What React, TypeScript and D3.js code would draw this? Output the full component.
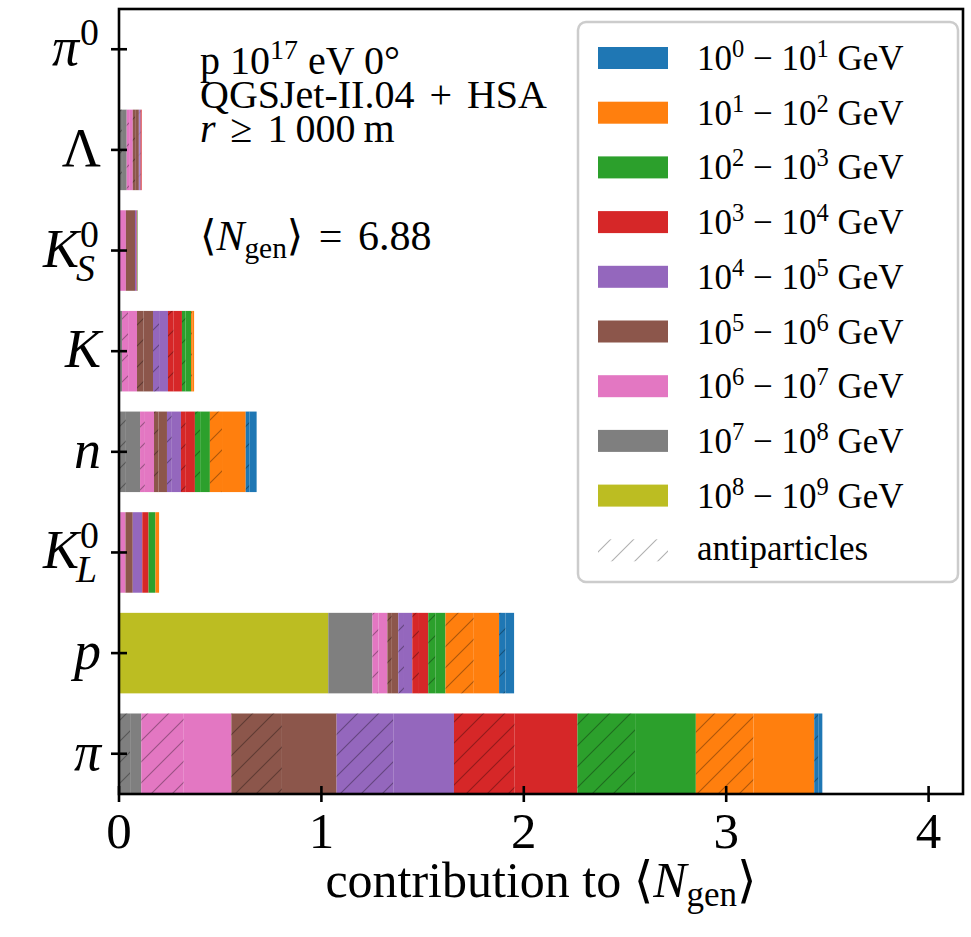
import React from "react";
import * as d3 from "d3";

// Energy bins: index i covers 10^i – 10^(i+1) GeV
const binExponents = [0, 1, 2, 3, 4, 5, 6, 7, 8];
const binColors = [
  "#1f77b4", "#ff7f0e", "#2ca02c", "#d62728", "#9467bd",
  "#8c564b", "#e377c2", "#7f7f7f", "#bcbd22",
];

// Contribution to <N_gen> per energy bin (particles / antiparticles)
const piPart = [0.02, 0.3, 0.3, 0.31, 0.3, 0.27, 0.235, 0.055, 0];
const piAnti = [0.02, 0.285, 0.285, 0.3, 0.28, 0.25, 0.21, 0.055, 0];
const pPart = [0.042, 0.125, 0.05, 0.046, 0.041, 0.032, 0.044, 0.218, 1.034];
const pAnti = [0.032, 0.14, 0.035, 0.033, 0.028, 0.022, 0.03, 0, 0];
const kl0Part = [0, 0.018, 0.034, 0.031, 0.047, 0.036, 0.026, 0.006, 0];
const kl0Anti = [0, 0, 0, 0, 0, 0, 0, 0, 0];
const nPart = [0.036, 0.117, 0.048, 0.045, 0.045, 0.042, 0.045, 0.07, 0];
const nAnti = [0.018, 0.06, 0.026, 0.024, 0.024, 0.022, 0.024, 0.034, 0];
const kPart = [0, 0.009, 0.027, 0.041, 0.044, 0.047, 0.044, 0.009, 0];
const kAnti = [0, 0.006, 0.018, 0.028, 0.03, 0.032, 0.03, 0.006, 0];
const ks0Part = [0, 0, 0.002, 0.003, 0.008, 0.045, 0.03, 0.004, 0];
const ks0Anti = [0, 0, 0, 0, 0, 0, 0, 0, 0];
const lambdaPart = [0, 0, 0, 0.003, 0.006, 0.018, 0.018, 0.023, 0];
const lambdaAnti = [0, 0, 0, 0.002, 0.003, 0.012, 0.012, 0.015, 0];
const pi0Part = [0, 0, 0, 0, 0, 0, 0, 0, 0];
const pi0Anti = [0, 0, 0, 0, 0, 0, 0, 0, 0];

// Rows from bottom to top
const rowPart = [piPart, pPart, kl0Part, nPart, kPart, ks0Part, lambdaPart, pi0Part];
const rowAnti = [piAnti, pAnti, kl0Anti, nAnti, kAnti, ks0Anti, lambdaAnti, pi0Anti];
const rowSymbols = ["π", "p", "K", "n", "K", "K", "Λ", "π"];
const rowSubs = ["", "", "L", "", "", "S", "", ""];
const rowSups = ["", "", "0", "", "", "0", "", "0"];
const rowItalic = [true, true, true, true, true, true, false, true];

const xTicks = [0, 1, 2, 3, 4];

const FONT = "'Liberation Serif', 'DejaVu Serif', serif";
const txt = { fontFamily: FONT };

type Segment = { x0: number; x1: number; color: string; hatched: boolean };

function buildSegments(part: number[], anti: number[]): Segment[] {
  const segs: Segment[] = [];
  let acc = 0;
  for (let b = binExponents.length - 1; b >= 0; b--) {
    const pieces: [number, boolean][] = [
      [anti[b], true],
      [part[b], false],
    ];
    for (const [v, hatched] of pieces) {
      if (v > 0) {
        segs.push({ x0: acc, x1: acc + v, color: binColors[b], hatched });
        acc += v;
      }
    }
  }
  return segs;
}

function PowerRange({ lo }: { lo: number }) {
  return (
    <>
      <tspan>10</tspan>
      <tspan dy={-13} fontSize="0.7em">{lo}</tspan>
      <tspan dy={13}>{" \u2212 10"}</tspan>
      <tspan dy={-13} fontSize="0.7em">{lo + 1}</tspan>
      <tspan dy={13}>{" GeV"}</tspan>
    </>
  );
}

export default function App() {
  const W = 971;
  const H = 937;
  const x = d3.scaleLinear().domain([0, 4.17]).range([119, 963]);
  const y = d3.scaleLinear().domain([-0.4, 7.4]).range([794, 9]);
  const barHalf = 0.4;

  const total = d3.sum(rowPart.map((p, i) => d3.sum(p) + d3.sum(rowAnti[i])));

  const rows = rowPart.map((p, i) => buildSegments(p, rowAnti[i]));

  const [xl, xr] = x.range();
  const [yb, yt] = y.range();

  const labelFont = 54;
  const labelRight = 101;

  const legendX = 578;
  const legendY = 22;
  const legendW = 380;
  const legendH = 560;
  const rowY0 = 58;
  const rowStep = 54.7;

  return (
    <svg
      width={W}
      height={H}
      viewBox={`0 0 ${W} ${H}`}
      style={{ position: "absolute", left: 0, top: 0, background: "#fff", fontFamily: FONT }}
    >
      <defs>
        <pattern id="hatch" patternUnits="userSpaceOnUse" width={21} height={21}>
          <path
            d="M-5,5 L5,-5 M0,21 L21,0 M16,26 L26,16"
            stroke="rgba(0,0,0,0.32)"
            strokeWidth={1.1}
          />
        </pattern>
        <pattern id="hatchLegend" patternUnits="userSpaceOnUse" width={23} height={23}>
          <path
            d="M-5,5 L5,-5 M0,23 L23,0 M18,28 L28,18"
            stroke="#b0b0b0"
            strokeWidth={1.1}
          />
        </pattern>
      </defs>
      <rect x={0} y={0} width={W} height={H} fill="#fff" />

      {/* stacked bars */}
      {rows.map((segs, i) => (
        <g key={i}>
          {segs.map((s, j) => (
            <g key={j}>
              <rect
                x={x(s.x0)}
                y={y(i + barHalf)}
                width={x(s.x1) - x(s.x0)}
                height={y(i - barHalf) - y(i + barHalf)}
                fill={s.color}
              />
              {s.hatched && (
                <rect
                  x={x(s.x0)}
                  y={y(i + barHalf)}
                  width={x(s.x1) - x(s.x0)}
                  height={y(i - barHalf) - y(i + barHalf)}
                  fill="url(#hatch)"
                />
              )}
            </g>
          ))}
        </g>
      ))}

      {/* frame */}
      <rect
        x={xl}
        y={yt}
        width={xr - xl}
        height={yb - yt}
        fill="none"
        stroke="#000"
        strokeWidth={2.6}
      />

      {/* x ticks */}
      {xTicks.map((t) => (
        <g key={t}>
          <line x1={x(t)} x2={x(t)} y1={yb - 8} y2={yb + 8} stroke="#000" strokeWidth={2.6} />
          <text x={x(t)} y={848} fontSize={51} textAnchor="middle" fill="#000" style={txt}>
            {t}
          </text>
        </g>
      ))}

      {/* y ticks and particle labels */}
      {rowSymbols.map((sym, i) => {
        const cy = y(i);
        const hasScript = rowSubs[i] !== "" || rowSups[i] !== "";
        const scriptW = hasScript ? 22 : 0;
        const baseEnd = labelRight - scriptW;
        return (
          <g key={i}>
            <line x1={xl - 8} x2={xl + 8} y1={cy} y2={cy} stroke="#000" strokeWidth={2.6} />
            <text
              x={baseEnd}
              y={cy + 16}
              fontSize={labelFont}
              fontStyle={rowItalic[i] ? "italic" : "normal"}
              textAnchor="end"
              fill="#000"
              style={txt}
            >
              {sym}
            </text>
            {rowSups[i] && (
              <text x={baseEnd + 1} y={cy - 4} fontSize={labelFont * 0.7} fill="#000" style={txt}>
                {rowSups[i]}
              </text>
            )}
            {rowSubs[i] && (
              <text
                x={baseEnd - 3}
                y={cy + 30}
                fontSize={labelFont * 0.7}
                fontStyle="italic"
                fill="#000"
                style={txt}
              >
                {rowSubs[i]}
              </text>
            )}
          </g>
        );
      })}

      {/* axis label */}
      <text x={541} y={897} fontSize={50} textAnchor="middle" fill="#000" style={txt}>
        <tspan>{"contribution to \u27E8"}</tspan>
        <tspan fontStyle="italic">N</tspan>
        <tspan dy={9} fontSize="0.7em">gen</tspan>
        <tspan dy={-9}>{"\u27E9"}</tspan>
      </text>

      {/* run description */}
      <g fontSize={40} fill="#000" style={txt}>
        <text x={200} y={74} style={txt}>
          <tspan>p 10</tspan>
          <tspan dy={-15} fontSize="0.7em">17</tspan>
          <tspan dy={15}>{" eV 0\u00B0"}</tspan>
        </text>
        <text x={200} y={108} wordSpacing={5} style={txt}>
          QGSJet-II.04 + HSA
        </text>
        <text x={200} y={142} wordSpacing={5} style={txt}>
          <tspan fontStyle="italic">r</tspan>
          <tspan>{" \u2265 1\u2009000\u2009m"}</tspan>
        </text>
        <text x={200} y={250} fontSize={42} wordSpacing={5} style={txt}>
          <tspan>{"\u27E8"}</tspan>
          <tspan fontStyle="italic">N</tspan>
          <tspan dy={8} fontSize="0.7em">gen</tspan>
          <tspan dy={-8}>{"\u27E9"}</tspan>
          <tspan>{` = ${total.toFixed(2)}`}</tspan>
        </text>
      </g>

      {/* legend */}
      <rect
        x={legendX}
        y={legendY}
        width={legendW}
        height={legendH}
        rx={8}
        fill="#fff"
        fillOpacity={0.8}
        stroke="#ccc"
        strokeWidth={2.5}
      />
      {binExponents.map((e, k) => {
        const ry = rowY0 + k * rowStep;
        return (
          <g key={e}>
            <rect x={598} y={ry - 11} width={70} height={22} fill={binColors[k]} />
            <text x={697} y={ry + 12} fontSize={35} fill="#000" style={txt}>
              <PowerRange lo={e} />
            </text>
          </g>
        );
      })}
      {(() => {
        const ry = rowY0 + binExponents.length * rowStep;
        return (
          <g>
            <rect x={598} y={ry - 11} width={70} height={22} fill="url(#hatchLegend)" />
            <text x={697} y={ry + 10} fontSize={35} fill="#000" style={txt}>
              antiparticles
            </text>
          </g>
        );
      })()}
    </svg>
  );
}
